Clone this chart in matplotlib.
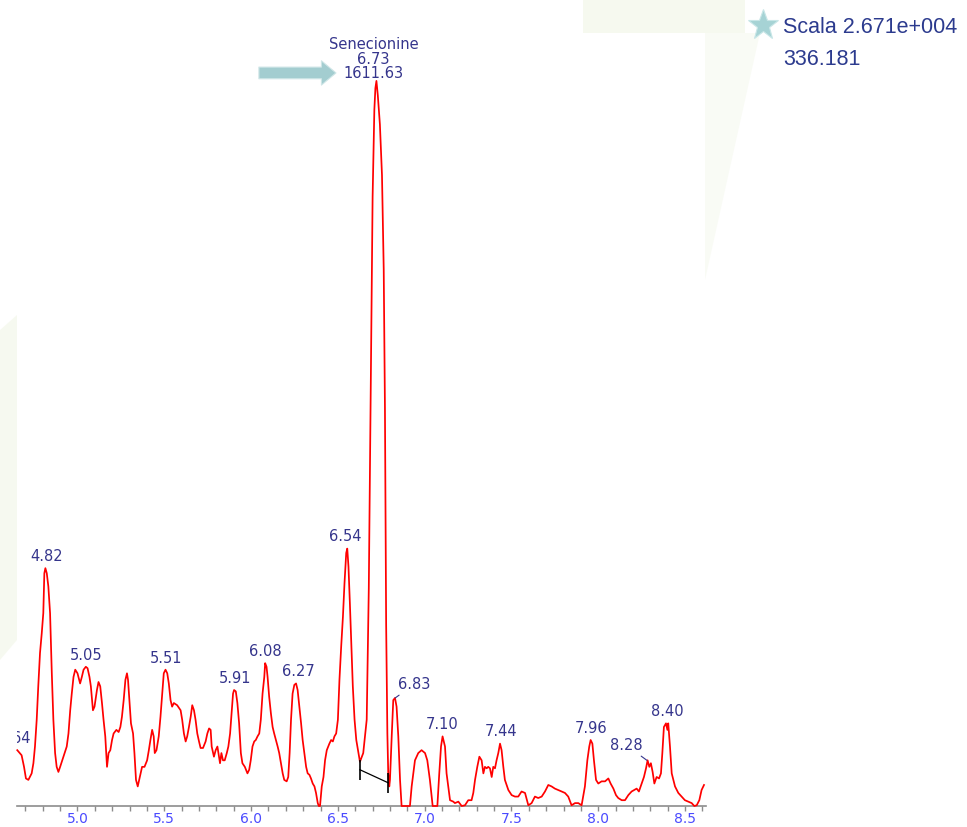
''' Chromatogram trace (Senecionine peak) '''
import numpy as np
import matplotlib.pyplot as plt
from matplotlib import font_manager
from matplotlib.lines import Line2D
from matplotlib.patches import Polygon
from matplotlib.ticker import MultipleLocator, FormatStrFormatter

# retention time (min) / relative intensity (% of 2.671e+004)
seg1_rt = [4.653, 4.678, 4.692, 4.703, 4.717, 4.736, 4.746, 4.755, 4.765, 4.774, 4.784,
           4.794, 4.803, 4.809, 4.815, 4.823, 4.832, 4.842, 4.852, 4.861, 4.871, 4.880,
           4.890, 4.900, 4.919, 4.938, 4.948, 4.958, 4.967, 4.977, 4.987, 5.000, 5.015,
           5.025, 5.035, 5.048, 5.058, 5.069, 5.077, 5.089, 5.098, 5.112, 5.121, 5.131]
seg1_int = [7.7, 7.0, 5.4, 3.8, 3.6, 4.5, 5.9, 8.2, 11.9, 16.5, 21.1,
            23.8, 26.6, 32.1, 32.8, 32.1, 30.3, 26.6, 18.3, 11.9, 7.3, 5.4,
            4.7, 5.4, 6.8, 8.2, 10.0, 13.2, 15.5, 17.8, 18.8, 18.3, 16.9,
            17.8, 18.8, 19.2, 19.0, 17.8, 16.5, 13.2, 13.7, 16.0, 17.1, 16.5]

seg2_rt = [5.141, 5.150, 5.160, 5.170, 5.179, 5.189, 5.199, 5.208, 5.224, 5.237, 5.247,
           5.256, 5.266, 5.276, 5.285, 5.291, 5.299, 5.308, 5.320, 5.328, 5.337, 5.347,
           5.359, 5.372, 5.386, 5.401, 5.411, 5.420, 5.430, 5.439, 5.445, 5.455, 5.468,
           5.478, 5.488, 5.497, 5.507, 5.517, 5.526, 5.536, 5.545, 5.555, 5.574, 5.594,
           5.603, 5.613, 5.623, 5.632, 5.642, 5.652, 5.661, 5.671, 5.680, 5.690, 5.700,
           5.709]
seg2_int = [14.2, 11.9, 9.6, 5.4, 7.3, 7.7, 9.1, 10.0, 10.5, 10.2, 10.9,
            12.3, 14.6, 17.4, 18.3, 17.4, 14.6, 11.4, 10.0, 7.3, 3.6, 2.7,
            4.0, 5.4, 5.4, 6.3, 7.7, 9.1, 10.5, 9.6, 7.3, 7.7, 9.6,
            12.3, 15.5, 18.3, 18.8, 18.3, 16.9, 14.6, 13.7, 14.2, 13.9, 13.2,
            11.9, 10.0, 8.9, 9.6, 10.9, 12.3, 13.9, 13.2, 11.9, 10.0, 8.9,
            8.0]

seg3_rt = [5.723, 5.738, 5.748, 5.758, 5.767, 5.773, 5.781, 5.786, 5.796, 5.806, 5.815,
           5.821, 5.829, 5.838, 5.848, 5.860, 5.869, 5.879, 5.889, 5.896, 5.902, 5.912,
           5.921, 5.931, 5.941, 5.950, 5.964, 5.979, 5.989, 5.998, 6.008, 6.018, 6.027,
           6.037, 6.047, 6.056, 6.066, 6.076, 6.081, 6.089, 6.095, 6.104, 6.114, 6.124,
           6.133, 6.143, 6.153, 6.162, 6.172, 6.182, 6.191, 6.205, 6.214, 6.222, 6.230,
           6.239, 6.249, 6.259, 6.268, 6.278, 6.288, 6.297, 6.307]
seg3_int = [8.0, 8.9, 10.0, 10.7, 10.5, 8.2, 7.3, 6.8, 7.7, 8.2, 6.8,
            5.9, 7.3, 6.3, 6.3, 7.3, 8.2, 10.0, 13.2, 15.5, 16.0, 15.8,
            14.2, 11.4, 7.3, 5.9, 5.4, 4.5, 5.0, 6.3, 8.2, 8.9, 9.1,
            9.6, 10.0, 11.9, 15.5, 17.8, 19.7, 19.2, 17.8, 15.1, 12.8, 10.9,
            10.0, 9.1, 8.2, 7.3, 5.9, 4.5, 3.6, 3.4, 4.0, 7.3, 11.9,
            15.5, 16.7, 16.9, 16.0, 13.7, 11.4, 9.1, 7.3]

seg4_rt = [6.317, 6.326, 6.336, 6.345, 6.355, 6.365, 6.374, 6.384, 6.390, 6.397, 6.407,
           6.417, 6.426, 6.436, 6.451, 6.461, 6.471, 6.480, 6.490, 6.500, 6.509, 6.519,
           6.529, 6.538, 6.548, 6.554, 6.561, 6.569, 6.577, 6.586, 6.596, 6.606, 6.627,
           6.646, 6.666, 6.678, 6.690, 6.700, 6.710, 6.716, 6.722, 6.730, 6.742, 6.754,
           6.764, 6.771, 6.778, 6.785, 6.790, 6.796, 6.800, 6.810, 6.819, 6.829, 6.838,
           6.848, 6.858, 6.867]
seg4_int = [5.4, 4.5, 4.3, 3.8, 3.1, 2.7, 1.8, 0.4, 0.0, 0.0, 2.7,
            4.0, 6.3, 7.7, 8.6, 9.1, 8.9, 9.6, 10.0, 11.9, 17.4, 22.0,
            26.1, 30.7, 34.9, 35.5, 33.0, 28.0, 22.4, 16.5, 11.9, 9.1, 6.1,
            7.3, 11.9, 30.0, 60.0, 84.0, 96.0, 99.0, 100.0, 98.0, 94.0, 87.0,
            74.0, 55.0, 25.0, 10.0, 4.5, 2.7, 3.6, 9.6, 14.6, 14.9, 13.7,
            9.6, 3.6, 0.0]

seg5_rt = [6.915, 6.925, 6.944, 6.963, 6.982, 7.002, 7.015, 7.030, 7.046, 7.073, 7.084,
           7.094, 7.103, 7.117, 7.126, 7.136, 7.146, 7.165, 7.174, 7.194, 7.213, 7.232,
           7.251, 7.270, 7.280, 7.290, 7.303, 7.315, 7.328, 7.338, 7.347, 7.357, 7.366,
           7.376, 7.386, 7.395, 7.405, 7.414, 7.424, 7.434, 7.443, 7.453, 7.462, 7.482,
           7.501, 7.520, 7.539]
seg5_int = [0.0, 2.7, 6.3, 7.3, 7.7, 7.3, 6.3, 3.6, 0.0, 0.0, 4.5,
            8.2, 9.6, 8.2, 4.5, 2.7, 0.8, 0.6, 0.4, 0.6, 0.0, 0.1,
            0.8, 0.8, 1.8, 3.6, 5.4, 6.8, 6.3, 4.5, 5.4, 5.2, 5.4,
            5.2, 4.0, 5.4, 5.2, 6.3, 7.3, 8.6, 7.7, 5.4, 3.6, 2.2,
            1.5, 1.3, 1.3]

seg6_rt = [7.558, 7.578, 7.597, 7.616, 7.635, 7.654, 7.674, 7.693, 7.712, 7.731, 7.750,
           7.770, 7.789, 7.808, 7.827, 7.846, 7.866, 7.885, 7.904, 7.923, 7.937, 7.948,
           7.956, 7.966, 7.975, 7.987, 8.000, 8.019, 8.039, 8.058, 8.071, 8.087, 8.102,
           8.115, 8.135, 8.154, 8.173, 8.192, 8.206, 8.221, 8.234, 8.250, 8.263, 8.275,
           8.284, 8.294, 8.303, 8.313, 8.323, 8.336, 8.350, 8.361, 8.369, 8.378, 8.390,
           8.398, 8.403, 8.413, 8.423, 8.442, 8.461, 8.480, 8.499, 8.519, 8.538, 8.553,
           8.567, 8.582, 8.595, 8.609]
seg6_int = [2.0, 1.8, 0.1, 0.4, 1.3, 1.1, 1.3, 2.0, 2.9, 2.7, 2.4,
            2.2, 2.0, 1.8, 1.3, 0.1, 0.4, 0.4, 0.1, 2.7, 6.3, 8.2,
            9.1, 8.6, 6.3, 3.6, 3.1, 3.4, 3.4, 3.8, 3.1, 2.4, 1.5,
            1.1, 0.8, 0.8, 1.5, 2.0, 2.2, 2.4, 2.0, 3.1, 4.0, 5.2,
            6.3, 5.4, 5.9, 4.7, 3.1, 4.0, 3.8, 4.5, 7.3, 10.9, 11.4,
            10.5, 11.4, 8.2, 4.5, 2.7, 1.8, 1.3, 0.8, 0.6, 0.4, 0.0,
            0.1, 0.8, 2.2, 2.9]

# peak labels drawn straight above the apex
peak_labels = ['4.64', '4.82', '5.05', '5.51', '5.91', '6.08', '6.27', '6.54',
               '7.10', '7.44', '7.96', '8.40']
# peak labels drawn with a leader line, offset in points
leader_labels = ['6.83', '8.28']
leader_offsets = [(14, 10), (-15, 11)]

# main peak
main_name = 'Senecionine'
main_rt = 6.73
main_area = 1611.63
scale_text = 'Scala 2.671e+004'
mass_text = '336.181'

# integration baseline (start, end) of the main peak
integ_rt = [6.627, 6.790]
integ_int = [5.0, 3.2]

rt = np.concatenate([seg1_rt, seg2_rt, seg3_rt, seg4_rt, seg5_rt, seg6_rt])
inten = np.concatenate([seg1_int, seg2_int, seg3_int, seg4_int, seg5_int, seg6_int])

W, H = 967, 827
names = {f.name for f in font_manager.fontManager.ttflist}
narrow = 'Liberation Sans Narrow' if 'Liberation Sans Narrow' in names else 'Liberation Sans'
big_size = 19 if narrow == 'Liberation Sans Narrow' else 15.5

LABEL_C = '#35358c'
TICK_C = '#4b4bff'
AXIS_C = '#8c8c8c'
GREEN = '#f6f9ef'
LAB_FS = 10.5


def fx(px):
    return px / W


def fy(py):
    return 1 - py / H


fig = plt.figure(figsize=(W / 100, H / 100), dpi=100)
fig.patch.set_facecolor('white')

# faint slide background around the white chart area
for pts, alpha in [([(583, 0), (745, 0), (745, 33), (583, 33)], 1.0),
                   ([(705, 33), (760, 33), (705, 280)], 0.6),
                   ([(0, 330), (17, 315), (17, 640), (0, 660)], 0.9)]:
    fig.add_artist(Polygon([(fx(x), fy(y)) for x, y in pts], closed=True,
                           transform=fig.transFigure, fc=GREEN, ec='none',
                           alpha=alpha, zorder=0))

ax = fig.add_axes([fx(17), 21 / H, 689 / W, 786 / H])
ax.set_facecolor('none')
ax.plot(rt, inten, color='#ff0000', lw=1.25, zorder=3, clip_on=False)

ax.set_xlim(4.6515, 8.6205)
ax.set_ylim(0, 108.4)

for s in ['top', 'left', 'right']:
    ax.spines[s].set_visible(False)
ax.spines['bottom'].set_color(AXIS_C)
ax.spines['bottom'].set_linewidth(1.2)
ax.set_yticks([])
ax.xaxis.set_major_locator(MultipleLocator(0.5))
ax.xaxis.set_minor_locator(MultipleLocator(0.1))
ax.xaxis.set_major_formatter(FormatStrFormatter('%.1f'))
ax.tick_params(axis='x', which='both', direction='out', length=3.5, width=1,
               color=AXIS_C, labelcolor=TICK_C, labelsize=10, pad=0.5)

# integration baseline
ax.plot(integ_rt, integ_int, color='black', lw=0.9, zorder=4)
ax.vlines(integ_rt, np.array(integ_int) - 1.4, np.array(integ_int) + 1.4,
          color='black', lw=1.2, zorder=4)


def apex(x, win=0.025):
    mask = np.abs(rt - x) <= win
    if not mask.any():
        return inten[np.argmin(np.abs(rt - x))]
    return inten[mask].max()


for lab in peak_labels:
    x = float(lab)
    ax.annotate(lab, (x, apex(x)), xytext=(0, 3), textcoords='offset points',
                ha='center', va='bottom', fontsize=LAB_FS, color=LABEL_C,
                annotation_clip=False, clip_on=True)

for lab, off in zip(leader_labels, leader_offsets):
    x = float(lab)
    ax.annotate(lab, (x, apex(x, 0.01)), xytext=off, textcoords='offset points',
                ha='center', va='center', fontsize=LAB_FS, color=LABEL_C,
                arrowprops=dict(arrowstyle='-', color=LABEL_C, lw=0.8,
                                shrinkA=1, shrinkB=0))

top = inten.max()
ax.annotate(f'{main_name}\n{main_rt:.2f}\n{main_area:.2f}', (main_rt, top),
            xytext=(-3, 0), textcoords='offset points', ha='center', va='bottom',
            fontsize=LAB_FS, color=LABEL_C, linespacing=0.95, annotation_clip=False)

# block arrow pointing at the main peak label
ax.annotate('', xy=(6.489, 101.1), xytext=(6.045, 101.1),
            arrowprops=dict(arrowstyle='simple,head_length=0.75,head_width=1.25,tail_width=0.6',
                            fc='#a3cdd0', ec='#cfe6e7', lw=0.8, mutation_scale=14,
                            shrinkA=0, shrinkB=0),
            annotation_clip=False)

# scale box top right
fig.add_artist(Line2D([fx(763)], [fy(25)], marker='*', markersize=23,
                      color='#a6d3d5', mec='#c8e6e7', mew=0.8,
                      transform=fig.transFigure))
fig.text(fx(783), fy(33), scale_text, fontsize=big_size, family=narrow,
         color='#2c3b8e', va='baseline', ha='left')
fig.text(fx(783), fy(65), mass_text, fontsize=big_size, family=narrow,
         color='#2c3b8e', va='baseline', ha='left')

fig.savefig('out.png', dpi=100)
